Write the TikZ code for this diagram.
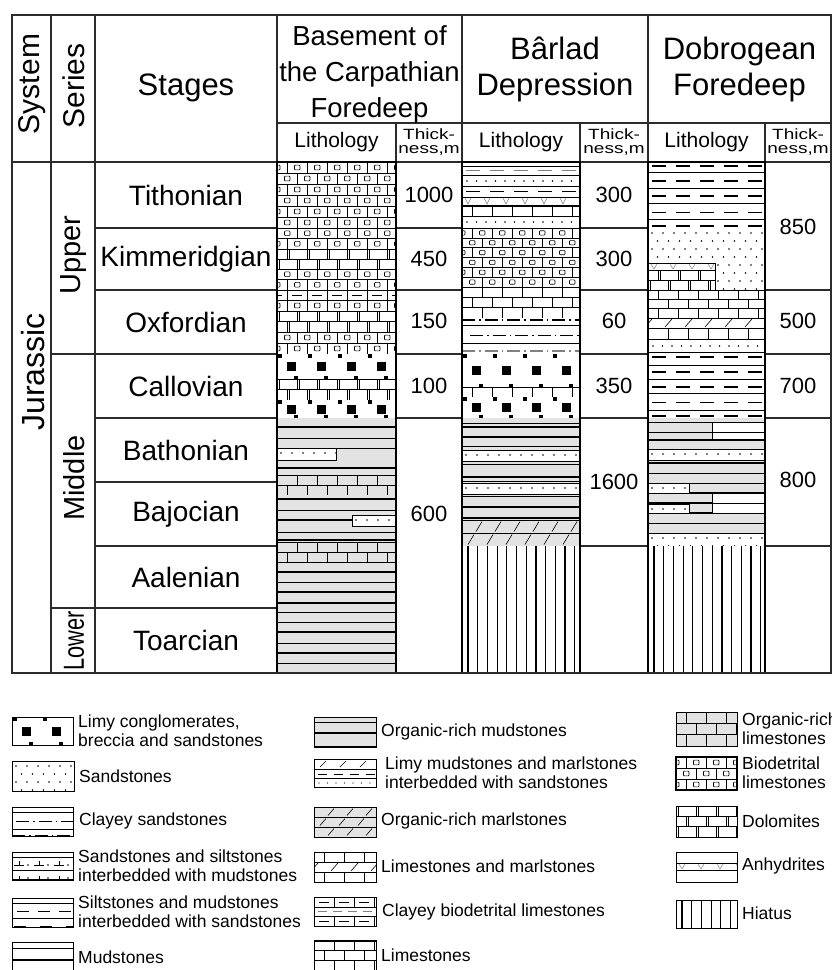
\documentclass[tikz,border=0pt]{standalone}
\usepackage{graphicx}
\usepackage{fontspec}
\setmainfont{Liberation Sans}

\definecolor{lithgray}{HTML}{E3E3E3}
\definecolor{gridgray}{HTML}{2B2B2B}

\tikzset{
  bed/.style={draw=black, line width=0.6pt},
  heavybed/.style={draw=black, line width=1.5pt},
  lith/.style={draw=black, line width=1.6pt},
  gridline/.style={draw=gridgray, line width=1.1pt},
  silt/.style={dash pattern=on 14pt off 10pt},
  claydash/.style={dash pattern=on 13pt off 4pt on 1.5pt off 4pt},
}

% brick rows: x1 y1 x2 y2 rows fill kind (0 plain, 1 clasts, 2 dolomite, 3 clayey, 4 marl)
\newcommand{\brick}[7]{%
  \fill[#6] (#1,#2) rectangle (#3,#4);
  \begin{scope}
    \clip (#1,#2) rectangle (#3,#4);
    \pgfmathsetmacro{\rowh}{(#4-#2)/#5}
    \foreach \i in {1,...,#5}{
      \pgfmathsetmacro{\yt}{#2+(\i-1)*\rowh}
      \pgfmathsetmacro{\rowoff}{mod(round(\yt/\rowh),2)*10}
      \draw[bed] (#1,\yt) -- (#3,\yt);
      \foreach \k in {-1,...,6}{
        \pgfmathsetmacro{\xc}{#1+\rowoff+\k*20}
        \ifnum#7=4
          \draw[bed] ({\xc-3},{\yt+\rowh-1}) -- ({\xc+4},{\yt+1});
        \else
          \draw[bed] (\xc,\yt) -- ++(0,\rowh);
        \fi
        \ifcase#7\or
          \draw[bed, rounded corners=0.8pt] ({\xc+7.5},{\yt+0.28*\rowh}) rectangle ++(5.5,{0.44*\rowh});
        \or
          \draw[bed] ({\xc+2.5},\yt) -- ++(0,\rowh);
        \or
          \draw[bed] ({\xc+5},{\yt+0.5*\rowh}) -- ++(10,0);
        \fi
      }
    }
  \end{scope}
}

% conglomerate band
\newcommand{\congl}[4]{%
  \fill[white] (#1,#2) rectangle (#3,#4);
  \begin{scope}
    \clip (#1,#2) rectangle (#3,#4);
    \pgfmathsetmacro{\ym}{(#2+#4)/2}
    \foreach \k in {0,...,4}{
      \fill ({#1+10+\k*30},{\ym-4.5}) rectangle ++(9,9);
      \fill ({#1+1+\k*30},#2) rectangle ++(4,3.5);
      \fill ({#1+17+\k*30},{#4-3.5}) rectangle ++(4,3.5);
    }
  \end{scope}
}

% sandstone dots
\newcommand{\sand}[4]{%
  \fill[white] (#1,#2) rectangle (#3,#4);
  \begin{scope}
    \clip (#1,#2) rectangle (#3,#4);
    \foreach \j in {0,...,8}{
      \foreach \k in {0,...,12}{
        \fill ({#1+4+\k*11+mod(\j,2)*5.5},{#2+5+\j*8}) circle (0.8pt);
      }
    }
  \end{scope}
}

\newcommand{\dotrow}[3]{%
  \begin{scope}
    \clip (#1,#3-3) rectangle (#2,#3+3);
    \foreach \k in {0,...,14}{\fill ({#1+5+\k*9.5},#3) circle (0.8pt);}
  \end{scope}
}

% anhydrite row of v marks
\newcommand{\anhy}[4]{%
  \begin{scope}
    \clip (#1,#2) rectangle (#3,#4);
    \foreach \k in {0,...,6}{
      \draw[gray, line width=0.5pt] ({#1+3+\k*19},{#2+1}) -- ++(3,{#4-#2-2}) -- ++(3,{-(#4-#2-2)});
    }
  \end{scope}
  \draw[bed] (#1,#2) -- (#3,#2) (#1,#4) -- (#3,#4);
}

% marlstone rows
\newcommand{\marl}[6]{%
  \fill[#6] (#1,#2) rectangle (#3,#4);
  \begin{scope}
    \clip (#1,#2) rectangle (#3,#4);
    \pgfmathsetmacro{\rowh}{(#4-#2)/#5}
    \foreach \i in {1,...,#5}{
      \pgfmathsetmacro{\yt}{#2+(\i-1)*\rowh}
      \pgfmathsetmacro{\rowoff}{mod(\i,2)*8}
      \draw[bed] (#1,\yt) -- (#3,\yt);
      \foreach \k in {0,...,6}{
        \draw[bed] ({#1+6+\rowoff+\k*19},{\yt+\rowh-1.5}) -- ++(6,{-(\rowh-3)});
      }
    }
  \end{scope}
}

% hiatus
\newcommand{\hiatus}[4]{%
  \fill[white] (#1,#2) rectangle (#3,#4);
  \begin{scope}
    \clip (#1,#2) rectangle (#3,#4);
    \foreach \k in {0,...,12}{
      \draw[line width=1.2pt] ({#1+6+\k*9.7},#2) -- ({#1+6+\k*9.7},#4);
    }
  \end{scope}
}

\newcommand{\thickhead}{\scalebox{1}[0.78]{\fontsize{19}{18}\selectfont\begin{tabular}{@{}c@{}}Thick-\\ness,m\end{tabular}}}

\begin{document}
\begin{tikzpicture}[x=1pt, y=-1pt,
  hdr/.style={font=\fontsize{31}{36}\selectfont, align=center},
  colname/.style={font=\fontsize{29}{32}\selectfont, rotate=90},
  stage/.style={font=\fontsize{28}{32}\selectfont},
  sub/.style={font=\fontsize{21}{24}\selectfont},
  num/.style={font=\fontsize{22}{26}\selectfont},
  legend/.style={font=\fontsize{17.5}{19}\selectfont, align=left, anchor=west, inner sep=0pt}]
\useasboundingbox (0,0) rectangle (832,970);

% Basement of the Carpathian Foredeep
\brick{277}{162}{396}{228}{6}{white}{1}
\brick{277}{228}{396}{249}{2}{white}{1}
\brick{277}{249}{396}{269}{2}{white}{2}
\brick{277}{269}{396}{290}{2}{white}{1}
\brick{277}{290}{396}{300}{1}{white}{3}
\brick{277}{300}{396}{311}{1}{white}{1}
\brick{277}{311}{396}{332}{2}{white}{2}
\brick{277}{332}{396}{354}{2}{white}{1}
\congl{277}{354}{396}{379}
\brick{277}{379}{396}{400}{2}{white}{2}
\congl{277}{400}{396}{418}
\fill[lithgray] (277,418) rectangle (396,673);
\foreach \yy/\lw in {427/1.5,438/0.6,448/0.6,468/1.5,475/0.6,499/1.5,510/0.6,520/1.5,532/0.6,540/1.5,562/0.6,572/1.5,582/0.6,592/1.5,603/1.5,612/0.6,622/0.6,632/1.5,643/0.6,653/1.5,663/0.6}
  \draw[line width=\lw pt] (277,\yy) -- (396,\yy);
\sand{277}{448}{336}{460}
\draw[bed] (277,448) rectangle (336,460);
\brick{277}{475}{396}{495}{2}{lithgray}{0}
\sand{352}{515}{396}{526}
\draw[bed] (352,515) rectangle (396,526);
\brick{277}{542}{396}{562}{2}{lithgray}{0}
\draw[bed] (277,562) -- (396,562);

% Barlad Depression
\fill[white] (462,162) rectangle (580,228);
\draw[bed, silt, gray] (466,170.5) -- (580,170.5);
\dotrow{462}{580}{181}
\draw[bed, silt] (466,191) -- (580,191);
\anhy{462}{197}{580}{205}
\brick{462}{206}{580}{216}{1}{white}{0}
\dotrow{462}{580}{222}
\foreach \yy in {166,175,186,197,206,216}
  \draw[bed] (462,\yy) -- (580,\yy);
\brick{462}{228}{580}{287}{6}{white}{1}
\brick{462}{287}{580}{318}{3}{white}{0}
\fill[white] (462,318) rectangle (580,354);
\draw[claydash, line width=1.6pt] (462,320) -- (580,320);
\draw[bed] (462,325) -- (580,325);
\draw[bed, claydash] (470,335) -- (580,335);
\draw[bed] (462,343) -- (580,343);
\draw[claydash, line width=1.4pt, gray] (462,351) -- (580,351);
\congl{462}{354}{580}{387}
\brick{462}{387}{580}{397}{1}{white}{0}
\draw[bed] (462,397) -- (580,397);
\congl{462}{397}{580}{418}
\fill[lithgray] (462,418) rectangle (580,520);
\foreach \yy/\lw in {423/0.6,427/1.5,437/1.5,446/0.6,464/0.6,477/1.5,481/0.6,496/0.6,507/1.5,518/1.5}
  \draw[line width=\lw pt] (462,\yy) -- (580,\yy);
\sand{462}{450}{580}{461}
\sand{462}{483}{580}{494}
\foreach \yy in {450,461,483,494}
  \draw[bed] (462,\yy) -- (580,\yy);
\marl{462}{520}{580}{546}{2}{lithgray}
\hiatus{462}{546}{580}{673}

% Dobrogean Foredeep
\fill[white] (648,162) rectangle (765,227);
\foreach \yy in {172,188,203,219}
  \draw[bed] (648,\yy) -- (765,\yy);
\draw[silt, line width=1.6pt] (652,166) -- (765,166);
\draw[silt, line width=1.4pt] (652,181) -- (765,181);
\draw[silt, line width=1.1pt] (652,196) -- (765,196);
\draw[silt, line width=0.8pt] (652,212) -- (765,212);
\draw[silt, line width=1.6pt] (652,226) -- (765,226);
\sand{648}{228}{765}{290}
\fill[white] (648,263) rectangle (715,290);
\anhy{648}{263}{715}{270}
\brick{648}{270}{715}{290}{2}{white}{2}
\draw[bed] (648,263) rectangle (715,290);
\brick{648}{290}{765}{318}{3}{white}{0}
\brick{648}{318}{765}{328}{1}{white}{4}
\brick{648}{328}{765}{339}{1}{white}{0}
\fill[white] (648,339) rectangle (765,354);
\dotrow{648}{765}{346}
\draw[bed] (648,339) -- (765,339);
\draw[bed] (648,352) -- (765,352);
\fill[white] (648,354) rectangle (765,418);
\foreach \yy in {365,379,393,410}
  \draw[bed] (648,\yy) -- (765,\yy);
\draw[silt, line width=1.5pt] (652,357) -- (765,357);
\draw[silt, line width=1.6pt] (652,372) -- (765,372);
\draw[silt, line width=1.2pt] (652,387) -- (765,387);
\draw[silt, line width=0.9pt] (652,402) -- (765,402);
\draw[silt, line width=1.4pt] (652,416) -- (765,416);
\fill[lithgray] (648,418) rectangle (765,546);
\fill[white] (712,422) rectangle (765,440);
\draw[bed] (712,422) -- (712,440);
\foreach \yy/\lw in {422/0.6,432/0.6,440/1.5,463/1.5,473/0.6,483/0.6,493/1.5,503/1.5,513/1.5,523/0.6}
  \draw[line width=\lw pt] (648,\yy) -- (765,\yy);
\sand{648}{449}{765}{460}
\draw[bed] (648,449) -- (765,449) (648,460) -- (765,460);
\sand{648}{483}{689}{493}
\draw[bed] (648,483) rectangle (689,493);
\fill[white] (712,494) rectangle (765,503);
\draw[bed] (712,494) -- (712,503);
\sand{648}{504}{689}{513}
\draw[bed] (648,504) rectangle (689,513);
\fill[white] (712,504) rectangle (765,513);
\draw[bed] (712,504) -- (712,513);
\sand{648}{533}{765}{546}
\draw[bed] (648,533) -- (765,533);
\hiatus{648}{546}{765}{673}

% Table frame
\foreach \xx in {51,95,277,462,648}
  \draw[gridline] (\xx,15) -- (\xx,673);
\foreach \xx in {396,580,765}
  \draw[gridline] (\xx,123) -- (\xx,673);
\draw[gridline] (277,123) -- (831,123);
\draw[gridline] (12,162) -- (831,162);
\draw[gridline] (51,354) -- (95,354);
\draw[gridline] (51,608) -- (95,608);
\foreach \yy in {228,290,354,418,482,546,608}
  \draw[gridline] (95,\yy) -- (277,\yy);
\foreach \yy in {228,290,354,418}
  \draw[gridline] (396,\yy) -- (462,\yy);
\foreach \yy in {228,290,354,418,546}
  \draw[gridline] (580,\yy) -- (648,\yy);
\foreach \yy in {290,354,418,546}
  \draw[gridline] (765,\yy) -- (831,\yy);
\draw[lith] (277,162) rectangle (396,673);
\draw[lith] (462,162) rectangle (580,673);
\draw[lith] (648,162) rectangle (765,673);
\draw[gridline, line width=1.8pt] (12,15) rectangle (831,673);

% Headers
\node[colname, font=\fontsize{30}{32}\selectfont] (sys) at (32,84) {System};
\node[colname, font=\fontsize{30}{32}\selectfont] (ser) at (74,86) {Series};
\node[hdr] (stg) at (186,88) {Stages};
\node[hdr, font=\fontsize{27.5}{36}\selectfont] (bas) at (369.5,74) {Basement of\\the Carpathian\\Foredeep};
\node[hdr] (bar) at (555,69) {Bârlad\\Depression};
\node[hdr] (dob) at (739.5,69) {Dobrogean\\Foredeep};
\node[sub] (basl) at (336.5,142) {Lithology};
\node[sub] (barl) at (521,142) {Lithology};
\node[sub] (dobl) at (706.5,142) {Lithology};
\node[inner sep=0pt] (bast) at (429,143) {\thickhead};
\node[inner sep=0pt] (bart) at (614,143) {\thickhead};
\node[inner sep=0pt] (dobt) at (798,143) {\thickhead};

% System, series, stages
\node[colname, font=\fontsize{32}{34}\selectfont] (jur) at (33,372) {Jurassic};
\node[colname] (upp) at (74,255) {Upper};
\node[colname] (mid) at (74,478) {Middle};
\node[colname] (low) at (74,641) {\scalebox{0.75}[1]{Lower}};
\node[stage] (tit) at (186,195) {Tithonian};
\node[stage] (kim) at (186,259) {Kimmeridgian};
\node[stage] (oxf) at (186,322) {Oxfordian};
\node[stage] (cal) at (186,386) {Callovian};
\node[stage] (bat) at (186,450) {Bathonian};
\node[stage] (baj) at (186,514) {Bajocian};
\node[stage] (aal) at (186,577) {Aalenian};
\node[stage] (toa) at (186,640) {Toarcian};

% Thickness values
\node[num] (b1) at (429,195) {1000};
\node[num] (b2) at (429,259) {450};
\node[num] (b3) at (429,321) {150};
\node[num] (b4) at (429,386) {100};
\node[num] (b5) at (429,514) {600};
\node[num] (r1) at (614,195) {300};
\node[num] (r2) at (614,259) {300};
\node[num] (r3) at (614,321) {60};
\node[num] (r4) at (614,386) {350};
\node[num] (r5) at (614,482) {1600};
\node[num] (d1) at (798,227) {850};
\node[num] (d2) at (798,321) {500};
\node[num] (d3) at (798,386) {700};
\node[num] (d4) at (798,480) {800};

% Legend, first column
\congl{12}{717}{73}{745}
\draw[bed] (12,717) rectangle (73,745);
\node[legend] (lg1) at (78,731) {Limy conglomerates,\\breccia and sandstones};
\sand{12}{761}{74}{791}
\draw[bed] (12,761) rectangle (74,791);
\node[legend] (lg2) at (79,776) {Sandstones};
\draw[bed] (12,807) rectangle (73,836);
\draw[bed] (12,812) -- (73,812);
\draw[bed, claydash] (16,821) -- (73,821);
\draw[bed] (12,829) -- (73,829);
\draw[claydash, line width=1.4pt] (12,836) -- (73,836);
\node[legend] (lg3) at (79,821) {Clayey sandstones};
\draw[bed] (12,852) rectangle (73,880);
\draw[bed] (12,857) -- (73,857);
\draw[bed] (12,870) -- (73,870);
\foreach \k in {0,1,2}{
  \draw[bed] ({14+\k*20},865) -- ++(10,0);
  \draw[bed] ({19+\k*20},865) -- ++(0,-4);
  \fill ({28+\k*20},865) circle (0.8pt);
  \draw[bed] ({19+\k*20},880) -- ++(0,-4);
  \fill ({28+\k*20},878) circle (0.8pt);
}
\draw[line width=1.3pt] (12,880) -- (73,880);
\node[legend] (lg4) at (78,866) {Sandstones and siltstones\\interbedded with mudstones};
\draw[bed] (12,898) rectangle (73,927);
\draw[bed] (12,903) -- (73,903);
\draw[bed, dash pattern=on 12pt off 9pt] (17,911) -- (73,911);
\draw[bed] (12,918) -- (73,918);
\draw[line width=1.6pt, dash pattern=on 12pt off 14pt] (14,927) -- (73,927);
\node[legend] (lg5) at (78,912) {Siltstones and mudstones\\interbedded with sandstones};
\draw[bed] (12,970) -- (12,942) -- (73,942) -- (73,970);
\draw[bed] (12,948) -- (73,948);
\draw[heavybed] (12,960) -- (73,960);
\node[legend] (lg6) at (78,957) {Mudstones};

% Legend, second column
\fill[lithgray] (314,717) rectangle (376,747);
\draw[bed] (314,717) rectangle (376,747);
\draw[bed] (314,722) -- (376,722);
\draw[heavybed] (314,733) -- (376,733);
\draw[heavybed] (314,747) -- (376,747);
\node[legend] (lg7) at (381,732) {Organic-rich mudstones};
\draw[bed] (314,759) rectangle (376,787);
\foreach \k in {0,1,2}
  \draw[bed] ({320+\k*20},767) -- ++(6,-6);
\draw[bed] (314,769) -- (376,769);
\draw[bed, dash pattern=on 9pt off 7pt] (318,774) -- (376,774);
\draw[bed] (314,778) -- (376,778);
\foreach \k in {0,...,6}
  \fill ({319+\k*8.5},783) circle (0.7pt);
\node[legend] (lg8) at (385,773) {Limy mudstones and marlstones\\interbedded with sandstones};
\marl{314}{807}{376}{837}{3}{lithgray}
\draw[bed] (314,807) rectangle (376,837);
\node[legend] (lg9) at (381,821) {Organic-rich marlstones};
\brick{314}{852}{376}{862}{1}{white}{0}
\brick{314}{862}{376}{872}{1}{white}{4}
\brick{314}{872}{376}{882}{1}{white}{0}
\draw[bed] (314,852) rectangle (376,882);
\node[legend] (lg10) at (381,866) {Limestones and marlstones};
\brick{314}{897}{376}{907}{1}{white}{3}
\draw[bed] (314,907) -- (376,907);
\draw[bed, gray, dash pattern=on 9pt off 6pt] (318,911.5) -- (376,911.5);
\brick{314}{916}{376}{926}{1}{white}{3}
\draw[bed] (314,897) rectangle (376,926);
\node[legend] (lg11) at (382,912) {Clayey biodetrital limestones};
\brick{314}{940}{376}{970}{3}{white}{0}
\draw[bed] (314,970) -- (314,940) -- (376,940) -- (376,970);
\draw[heavybed] (314,941) -- (376,941);
\node[legend] (lg12) at (381,955) {Limestones};

% Legend, third column
\brick{676}{712}{737}{746}{3}{lithgray}{0}
\draw[bed] (676,712) rectangle (737,746);
\draw[heavybed] (676,712.5) -- (737,712.5);
\node[legend] (lg13) at (742,729) {Organic-rich\\limestones};
\brick{676}{757}{737}{790}{3}{white}{1}
\draw[line width=1.1pt] (676,757) rectangle (737,790);
\node[legend] (lg14) at (742,773) {Biodetrital\\limestones};
\brick{676}{806}{737}{837}{3}{white}{2}
\draw[bed] (676,806) rectangle (737,837);
\node[legend] (lg15) at (742,821) {Dolomites};
\draw[bed] (676,852) rectangle (737,882);
\anhy{676}{863}{737}{870}
\node[legend] (lg16) at (742,866) {Anhydrites};
\hiatus{676}{900}{737}{928}
\draw[bed] (676,900) rectangle (737,928);
\node[legend] (lg17) at (742,913) {Hiatus};
\end{tikzpicture}
\end{document}
